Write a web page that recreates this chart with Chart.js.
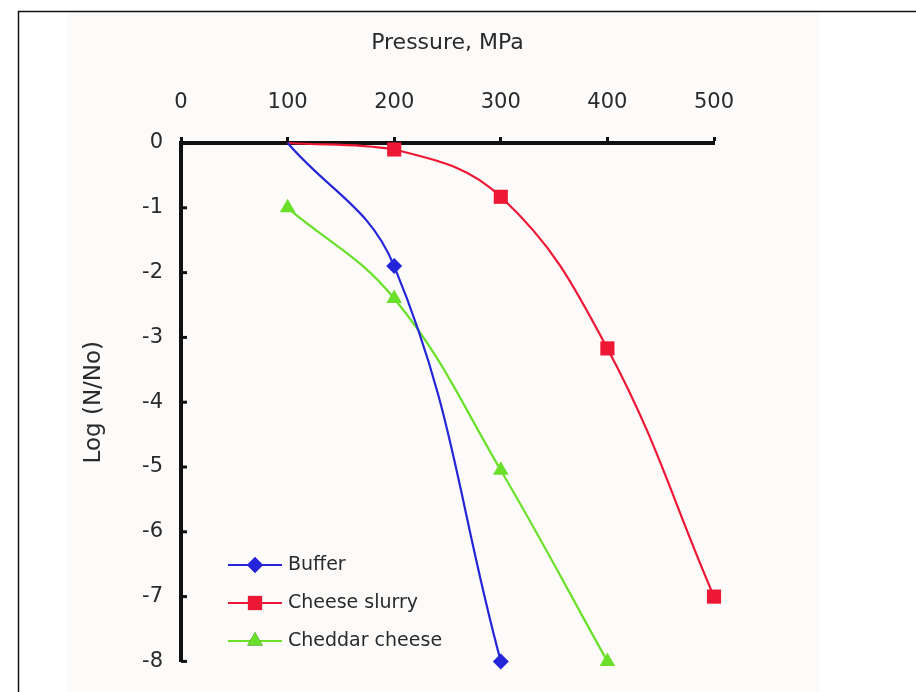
<!DOCTYPE html>
<html>
<head>
<meta charset="utf-8">
<script src="https://cdn.jsdelivr.net/npm/chart.js@4.4.1/dist/chart.umd.min.js"></script>
<style>
  html, body { margin: 0; padding: 0; background: #fff; }
  #wrap { width: 916px; height: 692px; }
</style>
</head>
<body>
<div id="wrap"><canvas id="grafico" width="916" height="692"></canvas></div>
<script>
// Dados do gráfico
const pressao = [100, 200, 300, 400, 500];
const buffer = [0, -1.9, -8];
const cheeseSlurry = [0, -0.1, -0.83, -3.17, -7.0];
const cheddar = [-1.0, -2.4, -5.05, -8];
const nomes = ['Buffer', 'Cheese slurry', 'Cheddar cheese'];
const xTicks = [0, 100, 200, 300, 400, 500];
const yTicks = [0, -1, -2, -3, -4, -5, -6, -7, -8];

const FONTE = '"DejaVu Sans", sans-serif';
const corTexto = '#2a2a2a';

// Função para montar pares x/y
function pares(valores) {
    return valores.map((v, i) => ({ x: pressao[i], y: v }));
}

// esconder marcador no ponto inicial (100, 0)
function raio(r) {
    return ctx => (ctx.raw && ctx.raw.x === 100 && ctx.raw.y === 0) ? 0 : r;
}

// Plugin para fundo, moldura, ticks do eixo y e legenda
const fundo = {
    id: 'fundo',
    beforeDraw(chart) {
        const c = chart.ctx;
        c.save();
        c.fillStyle = '#ffffff';
        c.fillRect(0, 0, chart.width, chart.height);
        c.fillStyle = '#fcfbfa';
        c.fillRect(67, 12, 753, chart.height - 12);
        c.strokeStyle = '#111';
        c.lineWidth = 1.5;
        c.beginPath();
        c.moveTo(18.5, chart.height);
        c.lineTo(18.5, 11.5);
        c.lineTo(chart.width, 11.5);
        c.stroke();
        c.restore();
    },
    afterDraw(chart) {
        const c = chart.ctx;
        const ys = chart.scales.y;
        const xs = chart.scales.x;
        c.save();
        // ticks do eixo y (para dentro)
        c.strokeStyle = '#111';
        c.lineWidth = 3;
        yTicks.forEach(v => {
            const py = ys.getPixelForValue(v);
            c.beginPath();
            c.moveTo(xs.left, py);
            c.lineTo(xs.left + 6, py);
            c.stroke();
        });
        // legenda
        const marcadores = ['rectRot', 'rect', 'triangle'];
        const raios = [8, 10, 9];
        chart.data.datasets.forEach((ds, i) => {
            const y = 565 + i * 38;
            c.strokeStyle = ds.borderColor;
            c.lineWidth = 2;
            c.beginPath();
            c.moveTo(228, y);
            c.lineTo(282, y);
            c.stroke();
            Chart.helpers.drawPoint(c, {
                pointStyle: marcadores[i],
                radius: raios[i],
                borderWidth: 0
            }, 255, y);
            c.fillStyle = ds.backgroundColor;
            c.fill();
            c.fillStyle = corTexto;
            c.font = '19px ' + FONTE;
            c.textBaseline = 'middle';
            c.fillText(ds.label, 288, y);
        });
        c.restore();
    }
};

const ctx = document.getElementById('grafico').getContext('2d');
new Chart(ctx, {
    type: 'scatter',
    data: {
        datasets: [
            {
                label: nomes[0],
                data: pares(buffer),
                borderColor: '#2424d8',
                backgroundColor: '#2424d8',
                pointStyle: 'rectRot',
                pointRadius: raio(8)
            },
            {
                label: nomes[1],
                data: pares(cheeseSlurry),
                borderColor: '#ee1735',
                backgroundColor: '#ee1735',
                pointStyle: 'rect',
                pointRadius: raio(10)
            },
            {
                label: nomes[2],
                data: pares(cheddar),
                borderColor: '#6ae02a',
                backgroundColor: '#6ae02a',
                pointStyle: 'triangle',
                pointRadius: raio(9)
            }
        ].map(ds => Object.assign(ds, {
            showLine: true,
            borderWidth: 2.2,
            tension: 0.4,
            pointBorderWidth: 0,
            pointHoverRadius: 0,
            clip: false
        }))
    },
    options: {
        responsive: false,
        animation: false,
        layout: { padding: { left: 0, top: 0, right: 202, bottom: 25 } },
        plugins: {
            legend: { display: false },
            tooltip: { enabled: false }
        },
        scales: {
            x: {
                type: 'linear',
                position: 'top',
                min: 0,
                max: 500,
                afterBuildTicks: s => { s.ticks = xTicks.map(v => ({ value: v })); },
                afterFit: s => { s.height = 143; },
                border: { color: '#111', width: 4 },
                grid: { drawOnChartArea: false, drawTicks: true, tickLength: 6, tickColor: '#111', tickWidth: 3 },
                ticks: { color: corTexto, font: { family: FONTE, size: 21 }, padding: 22 },
                title: {
                    display: true,
                    text: 'Pressure, MPa',
                    color: corTexto,
                    font: { family: FONTE, size: 22 },
                    padding: { top: 30, bottom: 0 }
                }
            },
            y: {
                type: 'linear',
                min: -8,
                max: 0,
                afterBuildTicks: s => { s.ticks = yTicks.map(v => ({ value: v })); },
                afterFit: s => { s.width = 181; },
                border: { color: '#111', width: 4 },
                grid: { drawOnChartArea: false, drawTicks: false },
                ticks: { color: corTexto, font: { family: FONTE, size: 21 }, padding: 18 },
                title: {
                    display: true,
                    text: 'Log (N/No)',
                    color: corTexto,
                    font: { family: FONTE, size: 23 },
                    padding: { top: 80, bottom: 0 }
                }
            }
        }
    },
    plugins: [fundo]
});
</script>
</body>
</html>
